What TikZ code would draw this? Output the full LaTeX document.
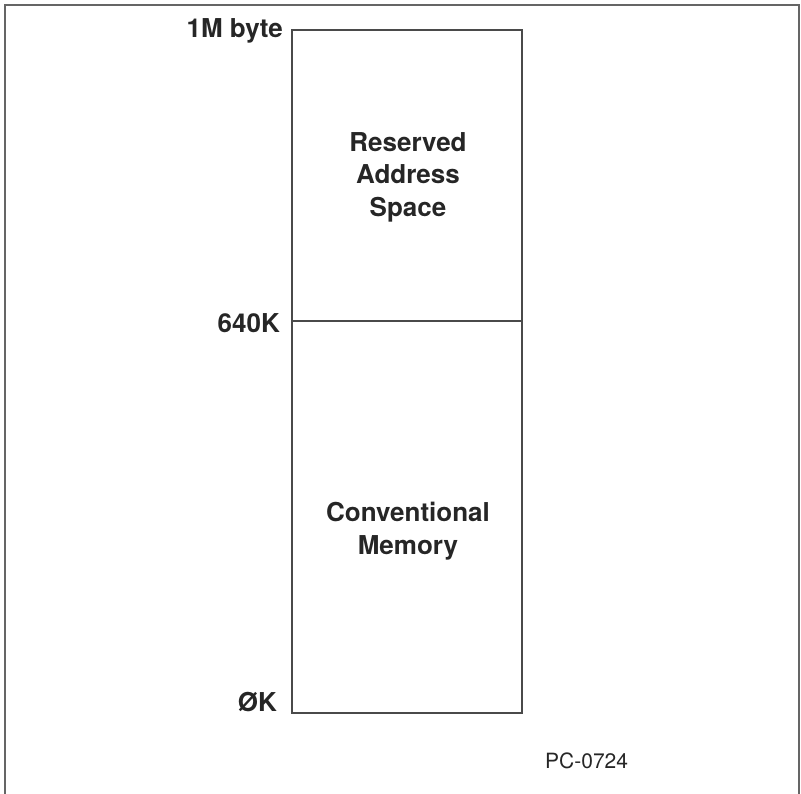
\documentclass[tikz,border=0pt]{standalone}
\usepackage{fontspec}
\setmainfont{TeX Gyre Heros}
\usetikzlibrary{positioning}
\definecolor{inkgray}{HTML}{4A4A4A}
\tikzstyle{frame} = [line width=1.5pt, draw=inkgray!85]
\tikzstyle{memline} = [line width=2pt, draw=inkgray]
\tikzstyle{addr} = [font=\fontsize{26}{31}\selectfont\bfseries, anchor=base east, inner sep=0pt, text=black!85]
\tikzstyle{region} = [font=\fontsize{26}{32.5}\selectfont\bfseries, align=center, inner sep=0pt, text=black!85]

\begin{document}
\begin{tikzpicture}[x=1pt,y=-1pt]
    \useasboundingbox (0,0) rectangle (801,794);
    \draw[frame] (5,794) -- (5,5) -- (799,5) -- (799,794);
    % memory map
    \coordinate (topL) at (292,30);
    \coordinate (topR) at (522,30);
    \coordinate (midL) at (292,321);
    \coordinate (midR) at (522,321);
    \coordinate (botL) at (292,713);
    \coordinate (botR) at (522,713);
    \draw[memline] (topL) rectangle (botR);
    \draw[memline] (midL) -- (midR);
    \node[region] (reserved) at (408,177) {Reserved\\Address\\Space};
    \node[region] (conventional) at (408,531) {Conventional\\Memory};
    % addresses
    \node[addr] (top) at (283,38) {1M byte};
    \node[addr] (mid) at (280,333) {640K};
    \node[addr] (bot) at (277,711) {ØK};
    \node[font=\fontsize{21}{25}\selectfont, anchor=base west, inner sep=0pt, text=black!85] (code) at (545,768) {PC-0724};
\end{tikzpicture}
\end{document}
